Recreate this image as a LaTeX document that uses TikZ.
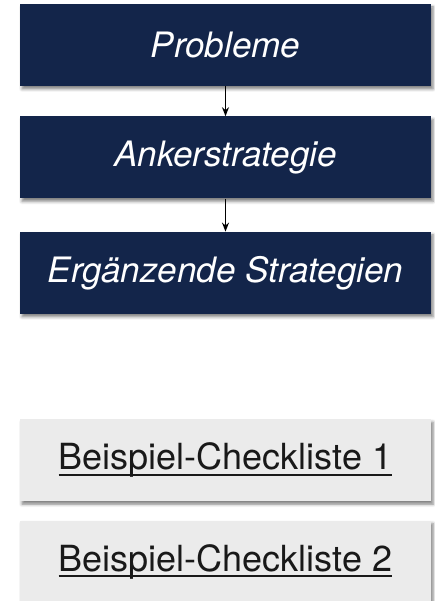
\documentclass[tikz,border=0pt]{standalone}
\usepackage{fontspec}
\setmainfont{TeX Gyre Heros}
\usetikzlibrary{arrows.meta,positioning,shadows.blur}
\definecolor{navy}{RGB}{19,37,74}
\definecolor{lightgray}{RGB}{235,235,235}
\newcommand{\ulbar}[1]{\setbox0\hbox{#1}\rlap{\rule[-6pt]{\wd0}{2pt}}\box0}

\begin{document}
\begin{tikzpicture}[x=1pt,y=1pt,>={Stealth[length=9pt,width=7pt]},
    box/.style={minimum width=411pt,minimum height=82pt,inner sep=0pt,
      blur shadow={shadow xshift=2pt,shadow yshift=-3pt,shadow blur radius=3pt,shadow opacity=50}},
    stepbox/.style={box,fill=navy,text=white,font=\fontsize{35}{40}\selectfont\itshape},
    listbox/.style={box,fill=lightgray,text=black!90,font=\fontsize{36}{40}\selectfont}]
  % frame
  \useasboundingbox (0,0) rectangle (434,-601);
  % main chain
  \node[stepbox] (probleme) at (225.5,-45) {Probleme};
  \node[stepbox,below=30pt of probleme] (anker) {Ankerstrategie};
  \node[stepbox,below=33pt of anker] (ergaenzend) {Ergänzende Strategien};
  \draw[->,line width=1.5pt] (probleme) -- (anker);
  \draw[->,line width=1.5pt] (anker) -- (ergaenzend);
  % checklists
  \node[listbox,below=105pt of ergaenzend] (liste1) {\ulbar{Beispiel-Checkliste 1}};
  \node[listbox,below=19pt of liste1] (liste2) {\ulbar{Beispiel-Checkliste 2}};
\end{tikzpicture}
\end{document}
